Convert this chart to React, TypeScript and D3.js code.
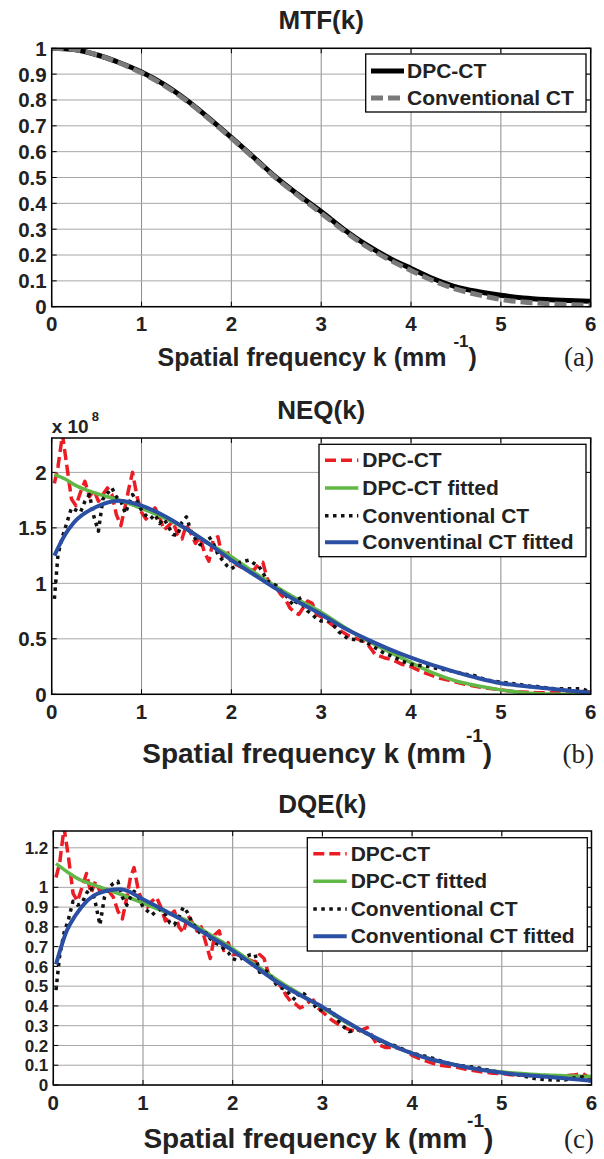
import React from 'react';
import * as d3 from 'd3';

const FONT = '"Liberation Sans", Arial, Helvetica, sans-serif';

// ---- panel (a) MTF ----
const mtfK = [0, 0.25, 0.5, 0.75, 1, 1.25, 1.5, 1.75, 2, 2.25, 2.5, 2.75, 3, 3.25, 3.5, 3.75, 4, 4.25, 4.5, 4.75, 5, 5.25, 5.5, 5.75, 6];
const mtfDpc = [1.0, 0.995, 0.975, 0.945, 0.908, 0.86, 0.8, 0.73, 0.655, 0.578, 0.5, 0.432, 0.368, 0.3, 0.24, 0.19, 0.148, 0.108, 0.077, 0.058, 0.044, 0.034, 0.028, 0.024, 0.021];
const mtfConv = [1.0, 0.995, 0.975, 0.944, 0.905, 0.857, 0.797, 0.727, 0.652, 0.575, 0.497, 0.428, 0.362, 0.295, 0.234, 0.183, 0.14, 0.1, 0.068, 0.046, 0.028, 0.018, 0.012, 0.008, 0.006];

// ---- measured (noisy) curves, panels (b) and (c) ----
const kNoisy = [
  0.03, 0.07, 0.12, 0.17, 0.22, 0.27, 0.32, 0.37, 0.42, 0.47,
  0.52, 0.57, 0.62, 0.67, 0.72, 0.77, 0.82, 0.86, 0.9, 0.95,
  1.0, 1.05, 1.1, 1.15, 1.2, 1.25, 1.3, 1.35, 1.4, 1.45,
  1.5, 1.55, 1.6, 1.65, 1.7, 1.75, 1.8, 1.85, 1.9, 1.95,
  2.0, 2.05, 2.1, 2.15, 2.2, 2.25, 2.3, 2.35, 2.4, 2.45,
  2.5, 2.55, 2.6, 2.65, 2.7, 2.75, 2.8, 2.85, 2.9, 2.95,
  3.0, 3.1, 3.2, 3.3, 3.4, 3.5, 3.6, 3.7, 3.8, 3.9,
  4.0, 4.1, 4.2, 4.3, 4.4, 4.5, 4.6, 4.7, 4.8, 4.9,
  5.0, 5.1, 5.2, 5.3, 5.4, 5.5, 5.6, 5.7, 5.8, 5.9,
  6.0,
];
const neqDpc = [
  1.9, 2.05, 2.34, 2.05, 1.76, 1.7, 1.82, 1.92, 1.78, 1.84,
  1.74, 1.8, 1.86, 1.8, 1.62, 1.52, 1.7, 1.86, 2.0, 1.78,
  1.64, 1.58, 1.64, 1.68, 1.6, 1.48, 1.52, 1.56, 1.44, 1.4,
  1.53, 1.45, 1.36, 1.42, 1.28, 1.2, 1.4, 1.42, 1.24, 1.3,
  1.18, 1.17, 1.15, 1.14, 1.12, 1.12, 1.17, 1.19, 1.04, 0.98,
  0.96, 0.9, 0.86, 0.78, 0.74, 0.72, 0.78, 0.84, 0.82, 0.72,
  0.7, 0.64, 0.58, 0.53, 0.5, 0.47, 0.36, 0.33, 0.31, 0.27,
  0.25, 0.21, 0.18, 0.15, 0.13, 0.11, 0.09, 0.075, 0.06, 0.05,
  0.04, 0.03, 0.022, 0.018, 0.015, 0.015, 0.015, 0.015, 0.02, 0.025,
  0.02,
];
const neqConv = [
  0.86, 1.26, 1.42, 1.55, 1.68, 1.66, 1.64, 1.74, 1.8, 1.6,
  1.47, 1.76, 1.81, 1.86, 1.78, 1.74, 1.63, 1.72, 1.8, 1.74,
  1.66, 1.61, 1.58, 1.62, 1.54, 1.58, 1.51, 1.44, 1.43, 1.55,
  1.6, 1.47, 1.4, 1.35, 1.34, 1.42, 1.36, 1.26, 1.21, 1.16,
  1.13, 1.16, 1.19, 1.2, 1.21, 1.18, 1.16, 1.1, 1.02, 1.0,
  0.98, 0.93, 0.9, 0.84, 0.8, 0.88, 0.8, 0.75, 0.72, 0.68,
  0.66, 0.66, 0.56, 0.5, 0.49, 0.47, 0.42, 0.37, 0.34, 0.3,
  0.27, 0.26, 0.25, 0.23, 0.22, 0.2, 0.18, 0.17, 0.14, 0.12,
  0.11, 0.1, 0.09, 0.075, 0.07, 0.06, 0.05, 0.05, 0.05, 0.05,
  0.02,
];
const dqeDpc = [
  1.05, 1.12, 1.3, 1.15, 0.97, 0.93, 1.0, 1.07, 0.97, 1.03,
  0.98, 1.0, 0.98, 0.95, 0.88, 0.84, 0.95, 1.05, 1.1, 0.98,
  0.92, 0.9, 0.93, 0.95, 0.9, 0.83, 0.86, 0.88, 0.8, 0.77,
  0.86, 0.82, 0.78, 0.8, 0.72, 0.64, 0.76, 0.78, 0.68, 0.72,
  0.66, 0.66, 0.65, 0.64, 0.63, 0.62, 0.66, 0.64, 0.56, 0.53,
  0.52, 0.49, 0.45, 0.42, 0.41, 0.39, 0.4, 0.42, 0.43, 0.39,
  0.37, 0.33, 0.3, 0.28, 0.27, 0.29, 0.21, 0.19, 0.19, 0.18,
  0.15, 0.13, 0.115, 0.1, 0.095, 0.09, 0.08, 0.072, 0.065, 0.06,
  0.058, 0.052, 0.05, 0.048, 0.045, 0.045, 0.045, 0.048, 0.05, 0.058,
  0.03,
];
const dqeConv = [
  0.48, 0.65, 0.77, 0.84, 0.93, 0.91, 0.92, 0.97, 1.0, 0.92,
  0.81, 0.95, 1.0, 1.02, 1.03, 0.95, 0.91, 0.95, 0.98, 0.95,
  0.9, 0.88, 0.86, 0.88, 0.89, 0.86, 0.82, 0.81, 0.85, 0.9,
  0.87, 0.82, 0.79, 0.76, 0.77, 0.74, 0.72, 0.71, 0.69, 0.67,
  0.64, 0.63, 0.64, 0.65, 0.66, 0.66, 0.57, 0.58, 0.57, 0.53,
  0.5, 0.49, 0.48, 0.45, 0.43, 0.47, 0.46, 0.43, 0.41, 0.38,
  0.38, 0.38, 0.31, 0.27, 0.28, 0.26, 0.23, 0.21, 0.2, 0.18,
  0.16, 0.15, 0.14, 0.125, 0.11, 0.1, 0.095, 0.09, 0.08, 0.07,
  0.063, 0.055, 0.05, 0.04, 0.03, 0.027, 0.025, 0.025, 0.035, 0.04,
  0.017,
];

// ---- fitted curves ----
const kFit = [0.03, 0.15, 0.25, 0.5, 0.75, 1, 1.25, 1.5, 1.75, 2, 2.25, 2.5, 2.75, 3, 3.25, 3.5, 3.75, 4, 4.25, 4.5, 4.75, 5, 5.25, 5.5, 5.75, 6];
const neqDpcFit = [1.98, 1.94, 1.89, 1.81, 1.75, 1.675, 1.59, 1.49, 1.36, 1.24, 1.1, 0.97, 0.85, 0.74, 0.61, 0.49, 0.385, 0.285, 0.19, 0.12, 0.075, 0.04, 0.015, 0.003, 0, 0];
const neqConvFit = [1.25, 1.44, 1.55, 1.69, 1.745, 1.7, 1.61, 1.49, 1.355, 1.21, 1.08, 0.95, 0.83, 0.72, 0.6, 0.5, 0.41, 0.33, 0.26, 0.2, 0.145, 0.1, 0.075, 0.055, 0.035, 0.015];
const dqeDpcFit = [1.12, 1.08, 1.05, 1.005, 0.965, 0.92, 0.875, 0.83, 0.76, 0.69, 0.61, 0.53, 0.46, 0.39, 0.32, 0.26, 0.205, 0.16, 0.125, 0.1, 0.08, 0.066, 0.057, 0.05, 0.046, 0.043];
const dqeConvFit = [0.61, 0.78, 0.86, 0.97, 0.99, 0.94, 0.88, 0.82, 0.75, 0.68, 0.6, 0.52, 0.455, 0.395, 0.325, 0.26, 0.205, 0.16, 0.125, 0.1, 0.078, 0.062, 0.05, 0.042, 0.032, 0.022];

// ---- ticks ----
const xTicks = [0, 1, 2, 3, 4, 5, 6];
const yTicksA = [0, 0.1, 0.2, 0.3, 0.4, 0.5, 0.6, 0.7, 0.8, 0.9, 1];
const yTicksB = [0, 0.5, 1, 1.5, 2];
const yTicksC = [0, 0.1, 0.2, 0.3, 0.4, 0.5, 0.6, 0.7, 0.8, 0.9, 1, 1.2];

const RED = '#ec1c24';
const GREEN = '#62b846';
const BLUE = '#2b4fa3';
const DARK = '#111111';

type Series = { k: number[]; v: number[]; color: string; width: number; dash?: string; smooth?: boolean; label: string };

type Spec = {
  id: string;
  title: string;
  tag: string;
  left: number; right: number; top: number; bottom: number;
  yMax: number;
  yTicks: number[];
  yLabelSize: number;
  titleY: number;
  tickY: number;
  labelY: number;
  labelSize: number;
  supGap: boolean;
  legend: { x0: number; x1: number; y0: number; y1: number; rows: number[]; sample: [number, number]; textX: number };
  series: Series[];
  exponent?: boolean;
};

const makeSeries = (nDpc: number[], nConv: number[], fDpc: number[], fConv: number[], conv: string): Series[] => [
  { k: kNoisy, v: nDpc, color: RED, width: 3.5, dash: '11 5', label: 'DPC-CT' },
  { k: kFit, v: fDpc, color: GREEN, width: 3.5, smooth: true, label: 'DPC-CT fitted' },
  { k: kNoisy, v: nConv, color: DARK, width: 3.5, dash: '3.5 4.5', label: 'Conventional CT' },
  { k: kFit, v: fConv, color: BLUE, width: 4, smooth: true, label: conv },
];

const specs: Spec[] = [
  {
    id: 'a', title: 'MTF(k)', tag: '(a)',
    left: 51.7, right: 590.7, top: 48.3, bottom: 306.7, yMax: 1, yTicks: yTicksA, yLabelSize: 20.5,
    titleY: 29, tickY: 331, labelY: 366, labelSize: 25, supGap: true,
    legend: { x0: 365.7, x1: 586, y0: 54, y1: 112, rows: [78, 105], sample: [371, 404], textX: 407 },
    series: [
      { k: mtfK, v: mtfDpc, color: '#000', width: 5, smooth: true, label: 'DPC-CT' },
      { k: mtfK, v: mtfConv, color: '#7a7a7a', width: 5, dash: '12 5', smooth: true, label: 'Conventional CT' },
    ],
  },
  {
    id: 'b', title: 'NEQ(k)', tag: '(b)',
    left: 51.7, right: 590.7, top: 438, bottom: 694.3, yMax: 2.31, yTicks: yTicksB, yLabelSize: 20.5,
    titleY: 419, tickY: 718.5, labelY: 762.5, labelSize: 28, supGap: false, exponent: true,
    legend: { x0: 319, x1: 586, y0: 444.3, y1: 556.7, rows: [467.3, 495, 522.7, 549.3], sample: [325, 358.3], textX: 362.3 },
    series: makeSeries(neqDpc, neqConv, neqDpcFit, neqConvFit, 'Conventinal CT fitted'),
  },
  {
    id: 'c', title: 'DQE(k)', tag: '(c)',
    left: 53.3, right: 591.5, top: 831, bottom: 1085, yMax: 1.285, yTicks: yTicksC, yLabelSize: 17,
    titleY: 813, tickY: 1109.5, labelY: 1148.3, labelSize: 28, supGap: false,
    legend: { x0: 307.3, x1: 587.3, y0: 837.7, y1: 951, rows: [860.7, 888.3, 916, 943.3], sample: [313.3, 346.7], textX: 350.7 },
    series: makeSeries(dqeDpc, dqeConv, dqeDpcFit, dqeConvFit, 'Conventional CT fitted'),
  },
];

function Panel({ s }: { s: Spec }) {
  const x = d3.scaleLinear().domain([0, 6]).range([s.left, s.right]);
  const y = d3.scaleLinear().domain([0, s.yMax]).range([s.bottom, s.top]);
  const tl = 5;
  const cx = (s.left + s.right) / 2;
  const pathOf = (sr: Series) =>
    d3.line<number>()
      .x((_, i) => x(sr.k[i]))
      .y((d) => y(d))
      .curve(sr.smooth ? d3.curveMonotoneX : d3.curveLinear)(sr.v) || '';
  const supSize = s.labelSize * 0.68;
  const supShift = s.labelSize * 0.75;
  return (
    <g>
      <defs>
        <clipPath id={'clip-' + s.id}>
          <rect x={s.left} y={s.top} width={s.right - s.left} height={s.bottom - s.top} />
        </clipPath>
      </defs>
      <rect x={s.left} y={s.top} width={s.right - s.left} height={s.bottom - s.top} fill="#fff" />
      {/* grid */}
      {xTicks.map((t) => (
        <line key={'gx' + t} x1={x(t)} x2={x(t)} y1={s.top} y2={s.bottom} stroke="#8c8c8c" strokeWidth={1} />
      ))}
      {s.yTicks.map((t) => (
        <line key={'gy' + t} x1={s.left} x2={s.right} y1={y(t)} y2={y(t)} stroke="#a6a6a6" strokeWidth={1} />
      ))}
      {/* ticks */}
      {xTicks.map((t) => (
        <g key={'tx' + t} stroke="#000" strokeWidth={1}>
          <line x1={x(t)} x2={x(t)} y1={s.bottom} y2={s.bottom - tl} />
          <line x1={x(t)} x2={x(t)} y1={s.top} y2={s.top + tl} />
        </g>
      ))}
      {s.yTicks.map((t) => (
        <g key={'ty' + t} stroke="#000" strokeWidth={1}>
          <line x1={s.left} x2={s.left + tl} y1={y(t)} y2={y(t)} />
          <line x1={s.right} x2={s.right - tl} y1={y(t)} y2={y(t)} />
        </g>
      ))}
      {/* curves */}
      <g clipPath={`url(#clip-${s.id})`}>
        {s.series.map((sr) => (
          <path key={sr.label} d={pathOf(sr)} fill="none" stroke={sr.color} strokeWidth={sr.width}
            strokeDasharray={sr.dash} strokeLinejoin="round" strokeLinecap="butt" />
        ))}
      </g>
      <rect x={s.left} y={s.top} width={s.right - s.left} height={s.bottom - s.top} fill="none" stroke="#000" strokeWidth={1.5} />
      {/* tick labels */}
      {xTicks.map((t) => (
        <text key={'lx' + t} x={x(t)} y={s.tickY} textAnchor="middle" fontSize={20.5} fontWeight="bold" fontFamily={FONT} fill="#222">
          {t}
        </text>
      ))}
      {s.yTicks.map((t) => (
        <text key={'ly' + t} x={s.left - 5} y={y(t)} dy="0.36em" textAnchor="end" fontSize={s.yLabelSize}
          fontWeight="bold" fontFamily={FONT} fill="#222">
          {t}
        </text>
      ))}
      {s.exponent && (
        <text x={s.left} y={s.top - 5} fontSize={19} fontWeight="bold" fontFamily={FONT} fill="#222">
          x 10<tspan fontSize={13} dx={3} dy={-12}>8</tspan>
        </text>
      )}
      {/* title */}
      <text x={cx} y={s.titleY} textAnchor="middle" fontSize={26} fontWeight="bold" fontFamily={FONT} fill="#222">
        {s.title}
      </text>
      {/* axis label */}
      <text x={cx - 4} y={s.labelY} textAnchor="middle" fontSize={s.labelSize} fontWeight="bold" fontFamily={FONT} fill="#222">
        {'Spatial frequency k (mm' + (s.supGap ? ' ' : '')}
        <tspan fontSize={supSize} dy={-supShift}>-1</tspan>
        <tspan dy={supShift}>)</tspan>
      </text>
      <text x={594} y={s.labelY} textAnchor="end" fontSize={27} fontFamily='"Liberation Serif", "Times New Roman", serif' fill="#222">
        {s.tag}
      </text>
      {/* legend */}
      <rect x={s.legend.x0} y={s.legend.y0} width={s.legend.x1 - s.legend.x0} height={s.legend.y1 - s.legend.y0}
        fill="#fff" stroke="#000" strokeWidth={1.3} />
      {s.series.map((sr, i) => (
        <g key={'lg' + sr.label}>
          <line x1={s.legend.sample[0]} x2={s.legend.sample[1]} y1={s.legend.rows[i] - 7} y2={s.legend.rows[i] - 7}
            stroke={sr.color} strokeWidth={sr.width} strokeDasharray={sr.dash} />
          <text x={s.legend.textX} y={s.legend.rows[i]} fontSize={21} fontWeight="bold" fontFamily={FONT} fill="#222">
            {sr.label}
          </text>
        </g>
      ))}
    </g>
  );
}

export default function App() {
  return (
    <svg width={604} height={1159} viewBox="0 0 604 1159"
      style={{ position: 'absolute', left: 0, top: 0, display: 'block', background: '#fff' }}>
      <rect x={0} y={0} width={604} height={1159} fill="#fff" />
      {specs.map((s) => (
        <Panel key={s.id} s={s} />
      ))}
    </svg>
  );
}
